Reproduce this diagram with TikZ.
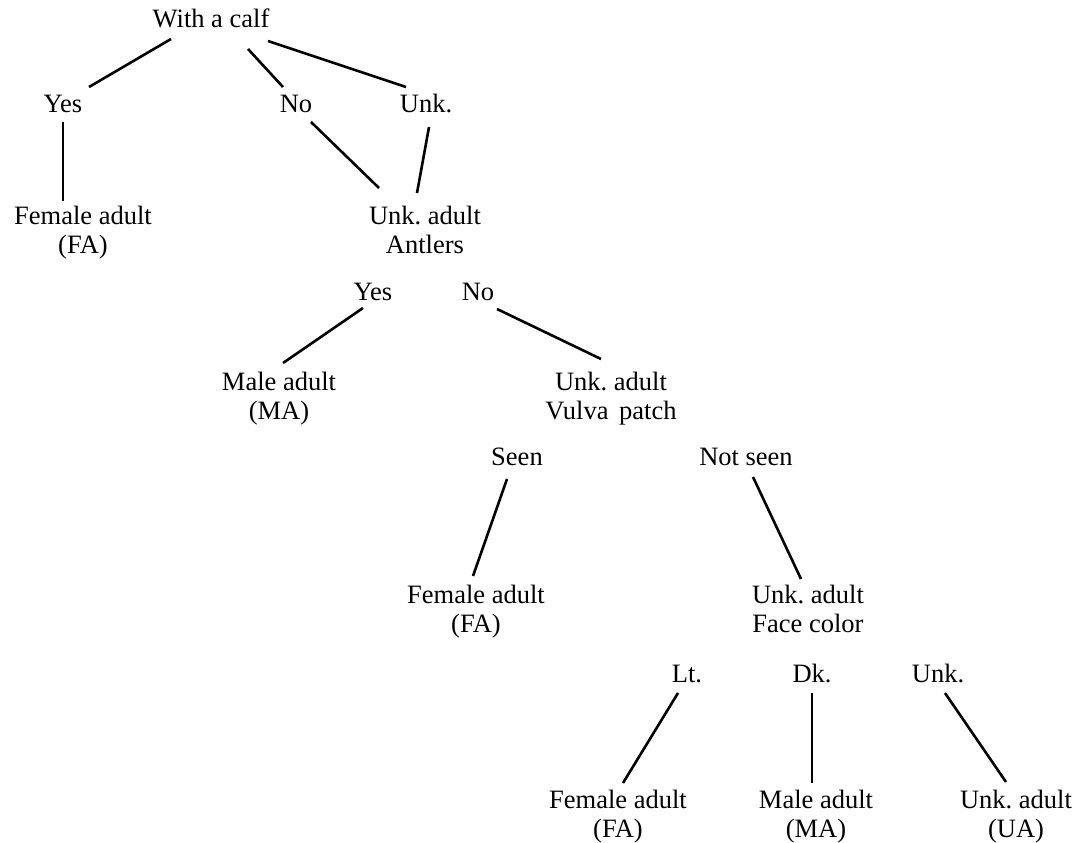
\documentclass[tikz,border=0pt]{standalone}
\usepackage{fontspec}
\setmainfont{Liberation Serif}
\usetikzlibrary{calc}
% two centred lines, aligned on the baseline of the first one
\newcommand{\tworows}[2]{\begin{tabular}[t]{@{}c@{}}#1\\#2\end{tabular}}
\frenchspacing
\begin{document}
\begin{tikzpicture}[x=1pt,y=-1pt,
  lbl/.style={anchor=base, inner sep=0pt, font=\fontsize{26.5}{29.5}\selectfont},
  edge/.style={line width=2.6pt, line cap=butt}]
\useasboundingbox (0,0) rectangle (1082,843);

% root question
\node[lbl] (calf) at (211,28) {With a calf};
\node[lbl] (yesA) at (63,113) {Yes};
\node[lbl] (noA)  at (296,113) {No};
\node[lbl] (unkA) at (426,113) {Unk.};
\node[lbl] (faA)  at (83,224)  {\tworows{Female adult}{(FA)}};
\node[lbl] (uaA)  at (425,224) {\tworows{Unk. adult}{Antlers}};

% antlers
\node[lbl] (yesB) at (373,300) {Yes};
\node[lbl] (noB)  at (478,300) {No};
\node[lbl] (maB)  at (279,390) {\tworows{Male adult}{(MA)}};
\node[lbl] (uaB)  at (611,390) {\tworows{Unk. adult}{Vulva\hspace{0.4em}patch}};

% vulva patch
\node[lbl] (seen)    at (517,465) {Seen};
\node[lbl] (notseen) at (746,465) {Not seen};
\node[lbl] (faC) at (476,603) {\tworows{Female adult}{(FA)}};
\node[lbl] (uaC) at (808,603) {\tworows{Unk. adult}{Face color}};

% face color
\node[lbl] (lt)   at (687,682) {Lt.};
\node[lbl] (dk)   at (812,682) {Dk.};
\node[lbl] (unkD) at (938,682) {Unk.};
\node[lbl] (faD)  at (618,808) {\tworows{Female adult}{(FA)}};
\node[lbl] (maD)  at (816,808) {\tworows{Male adult}{(MA)}};
\node[lbl] (uaD)  at (1016,808) {\tworows{Unk. adult}{(UA)}};

% branches
\draw[edge] ($(calf.base)+(-40,11)$) -- ($(yesA.base)+(26,-26)$);
\draw[edge] ($(calf.base)+(37,21)$)  -- ($(noA.base)+(-13,-26)$);
\draw[edge] ($(calf.base)+(57,13)$)  -- ($(unkA.base)+(-20,-26)$);
\draw[edge] ($(yesA.base)+(0,9)$)    -- ($(faA.base)+(-20,-23)$);
\draw[edge] ($(noA.base)+(15,9)$)    -- ($(uaA.base)+(-46,-36)$);
\draw[edge] ($(unkA.base)+(3,14)$)   -- ($(uaA.base)+(-8,-31)$);
\draw[edge] ($(yesB.base)+(-10,8)$)  -- ($(maB.base)+(4,-27)$);
\draw[edge] ($(noB.base)+(19,9)$)    -- ($(uaB.base)+(-10,-31)$);
\draw[edge] ($(seen.base)+(-10,14)$) -- ($(faC.base)+(-3,-27)$);
\draw[edge] ($(notseen.base)+(7,12)$) -- ($(uaC.base)+(-7,-24)$);
\draw[edge] ($(lt.base)+(-9,11)$)    -- ($(faD.base)+(5,-25)$);
\draw[edge] ($(dk.base)+(0,11)$)     -- ($(maD.base)+(-4,-25)$);
\draw[edge] ($(unkD.base)+(7,11)$)   -- ($(uaD.base)+(-10,-26)$);
\end{tikzpicture}
\end{document}
